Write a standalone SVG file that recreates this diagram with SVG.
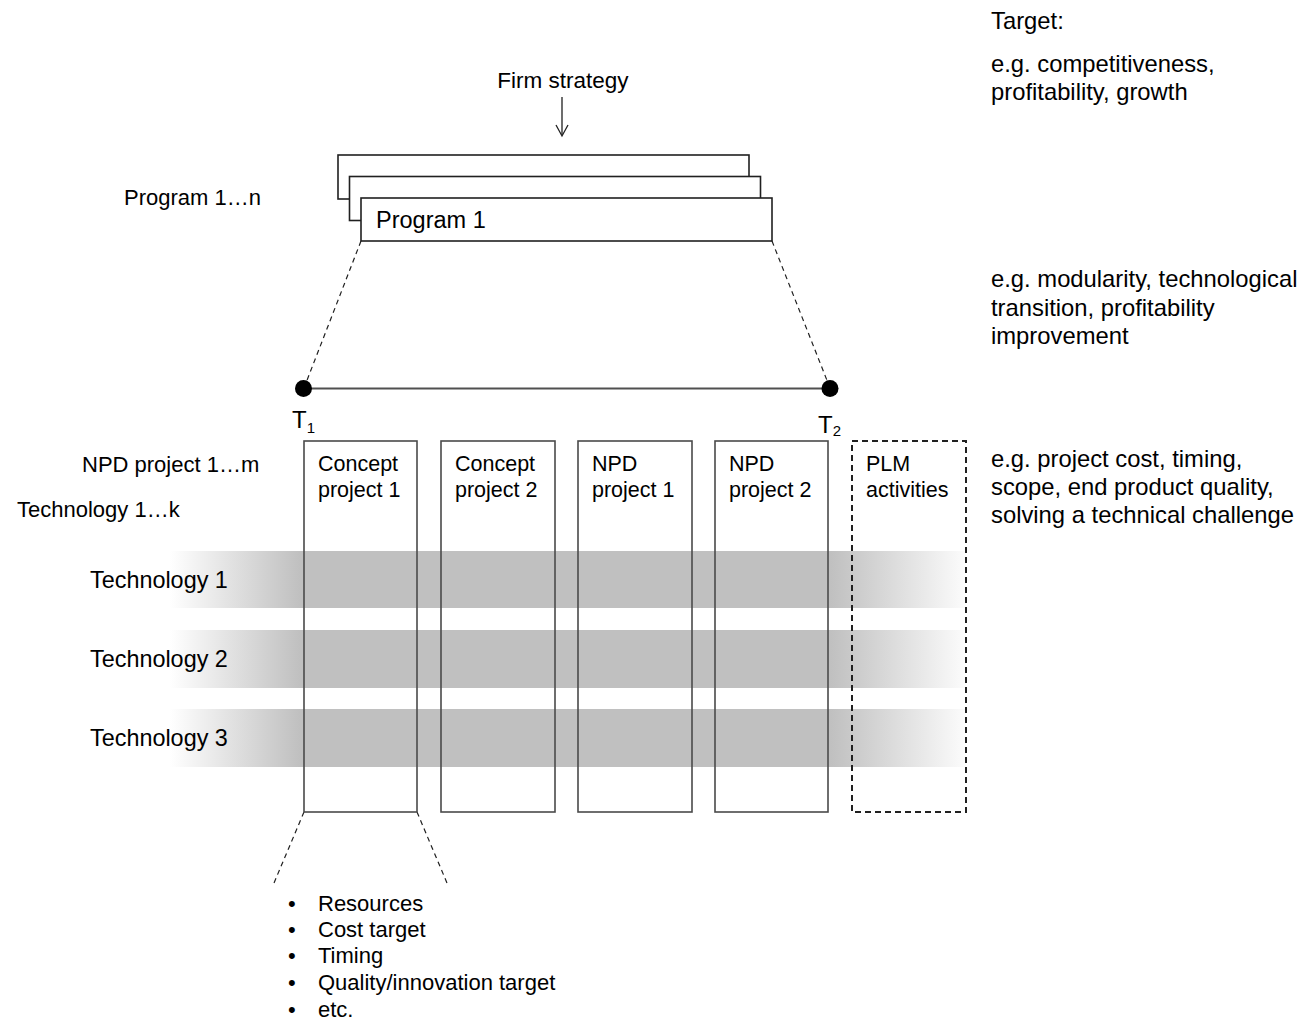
<svg xmlns="http://www.w3.org/2000/svg" width="1308" height="1022" viewBox="0 0 1308 1022">
  <style>
    text { font-family: "Liberation Sans", Arial, sans-serif; fill: #000; }
    .note { font-size: 23.8px; }
    .lvl { font-size: 22px; }
    .tech { font-size: 23.4px; }
    .proj { font-size: 21.5px; }
    .list { font-size: 22px; }
    .box { fill: none; stroke: #4a4a4a; stroke-width: 1.6; }
    .prog { fill: #fff; stroke: #202020; stroke-width: 1.6; }
    .dash { fill: none; stroke: #202020; stroke-width: 1.2; stroke-dasharray: 5 4; }
    .plm { fill: none; stroke: #202020; stroke-width: 2; stroke-dasharray: 6 4; }
  </style>
  <defs>
    <linearGradient id="bandFade" x1="170" y1="0" x2="966" y2="0" gradientUnits="userSpaceOnUse">
      <stop offset="0" stop-color="#c0c0c0" stop-opacity="0"/>
      <stop offset="0.163" stop-color="#c0c0c0" stop-opacity="1"/>
      <stop offset="0.83" stop-color="#c0c0c0" stop-opacity="1"/>
      <stop offset="1" stop-color="#c0c0c0" stop-opacity="0.05"/>
    </linearGradient>
  </defs>

  <!-- right-hand annotations -->
  <g id="annotations">
    <text class="note" x="991" y="29" font-size="23">Target:</text>
    <text class="note" x="991" y="72">e.g. competitiveness,</text>
    <text class="note" x="991" y="100">profitability, growth</text>
    <text class="note" x="991" y="287">e.g. modularity, technological</text>
    <text class="note" x="991" y="316">transition, profitability</text>
    <text class="note" x="991" y="344">improvement</text>
    <text class="note" x="991" y="467">e.g. project cost, timing,</text>
    <text class="note" x="991" y="495">scope, end product quality,</text>
    <text class="note" x="991" y="523">solving a technical challenge</text>
  </g>

  <!-- left-hand level labels -->
  <g id="levels">
    <text class="lvl" x="124" y="205">Program 1…n</text>
    <text class="lvl" x="82" y="472">NPD project 1…m</text>
    <text class="lvl" x="17" y="517">Technology 1…k</text>
  </g>

  <!-- firm strategy -->
  <g id="strategy">
    <text x="563" y="88" font-size="22.5" text-anchor="middle">Firm strategy</text>
  </g>

  <!-- technology bands -->
  <g id="technologies">
    <rect x="170" y="551" width="796" height="57" fill="url(#bandFade)"/>
    <rect x="170" y="630" width="796" height="58" fill="url(#bandFade)"/>
    <rect x="170" y="709" width="796" height="58" fill="url(#bandFade)"/>
    <text class="tech" x="90" y="588">Technology 1</text>
    <text class="tech" x="90" y="667">Technology 2</text>
    <text class="tech" x="90" y="746">Technology 3</text>
  </g>

  <!-- program stack -->
  <g id="programs">
    <rect class="prog" x="338" y="155" width="411" height="44"/>
    <rect class="prog" x="349.5" y="176.5" width="411" height="44"/>
    <rect class="prog" x="361" y="198" width="411" height="43"/>
    <text x="376" y="228" font-size="23.5">Program 1</text>
  </g>

  <!-- connectors -->
  <g id="connectors">
    <line x1="562" y1="97" x2="562" y2="135" stroke="#202020" stroke-width="1.3"/>
    <polyline points="556,125 562,136 568,125" fill="none" stroke="#202020" stroke-width="1.3"/>
    <line class="dash" x1="361" y1="241" x2="304" y2="388"/>
    <line class="dash" x1="772" y1="241" x2="830" y2="388"/>
    <line x1="304" y1="388.5" x2="830" y2="388.5" stroke="#505050" stroke-width="2"/>
    <line class="dash" x1="304" y1="812" x2="274" y2="883"/>
    <line class="dash" x1="417" y1="812" x2="447" y2="883"/>
  </g>

  <!-- timeline milestones -->
  <g id="milestones">
    <circle cx="303.5" cy="388.5" r="8.5" fill="#000"/>
    <circle cx="830" cy="388.5" r="8.5" fill="#000"/>
    <text x="292" y="428" font-size="24">T<tspan font-size="15" dy="5">1</tspan></text>
    <text x="818" y="433" font-size="24">T<tspan font-size="15" dy="3">2</tspan></text>
  </g>

  <!-- projects -->
  <g id="concept-project-1">
    <rect class="box" x="304" y="441" width="113" height="371"/>
    <text class="proj" x="318" y="471">Concept</text>
    <text class="proj" x="318" y="497">project 1</text>
  </g>
  <g id="concept-project-2">
    <rect class="box" x="441" y="441" width="114" height="371"/>
    <text class="proj" x="455" y="471">Concept</text>
    <text class="proj" x="455" y="497">project 2</text>
  </g>
  <g id="npd-project-1">
    <rect class="box" x="578" y="441" width="114" height="371"/>
    <text class="proj" x="592" y="471">NPD</text>
    <text class="proj" x="592" y="497">project 1</text>
  </g>
  <g id="npd-project-2">
    <rect class="box" x="715" y="441" width="113" height="371"/>
    <text class="proj" x="729" y="471">NPD</text>
    <text class="proj" x="729" y="497">project 2</text>
  </g>
  <g id="plm-activities">
    <rect class="plm" x="852" y="441" width="114" height="371"/>
    <text class="proj" x="866" y="471">PLM</text>
    <text class="proj" x="866" y="497">activities</text>
  </g>

  <!-- project parameters -->
  <g id="parameters">
    <text class="list" x="288" y="911">•</text>
    <text class="list" x="318" y="911">Resources</text>
    <text class="list" x="288" y="937">•</text>
    <text class="list" x="318" y="937">Cost target</text>
    <text class="list" x="288" y="963">•</text>
    <text class="list" x="318" y="963">Timing</text>
    <text class="list" x="288" y="990">•</text>
    <text class="list" x="318" y="990">Quality/innovation target</text>
    <text class="list" x="288" y="1017">•</text>
    <text class="list" x="318" y="1017">etc.</text>
  </g>
</svg>
